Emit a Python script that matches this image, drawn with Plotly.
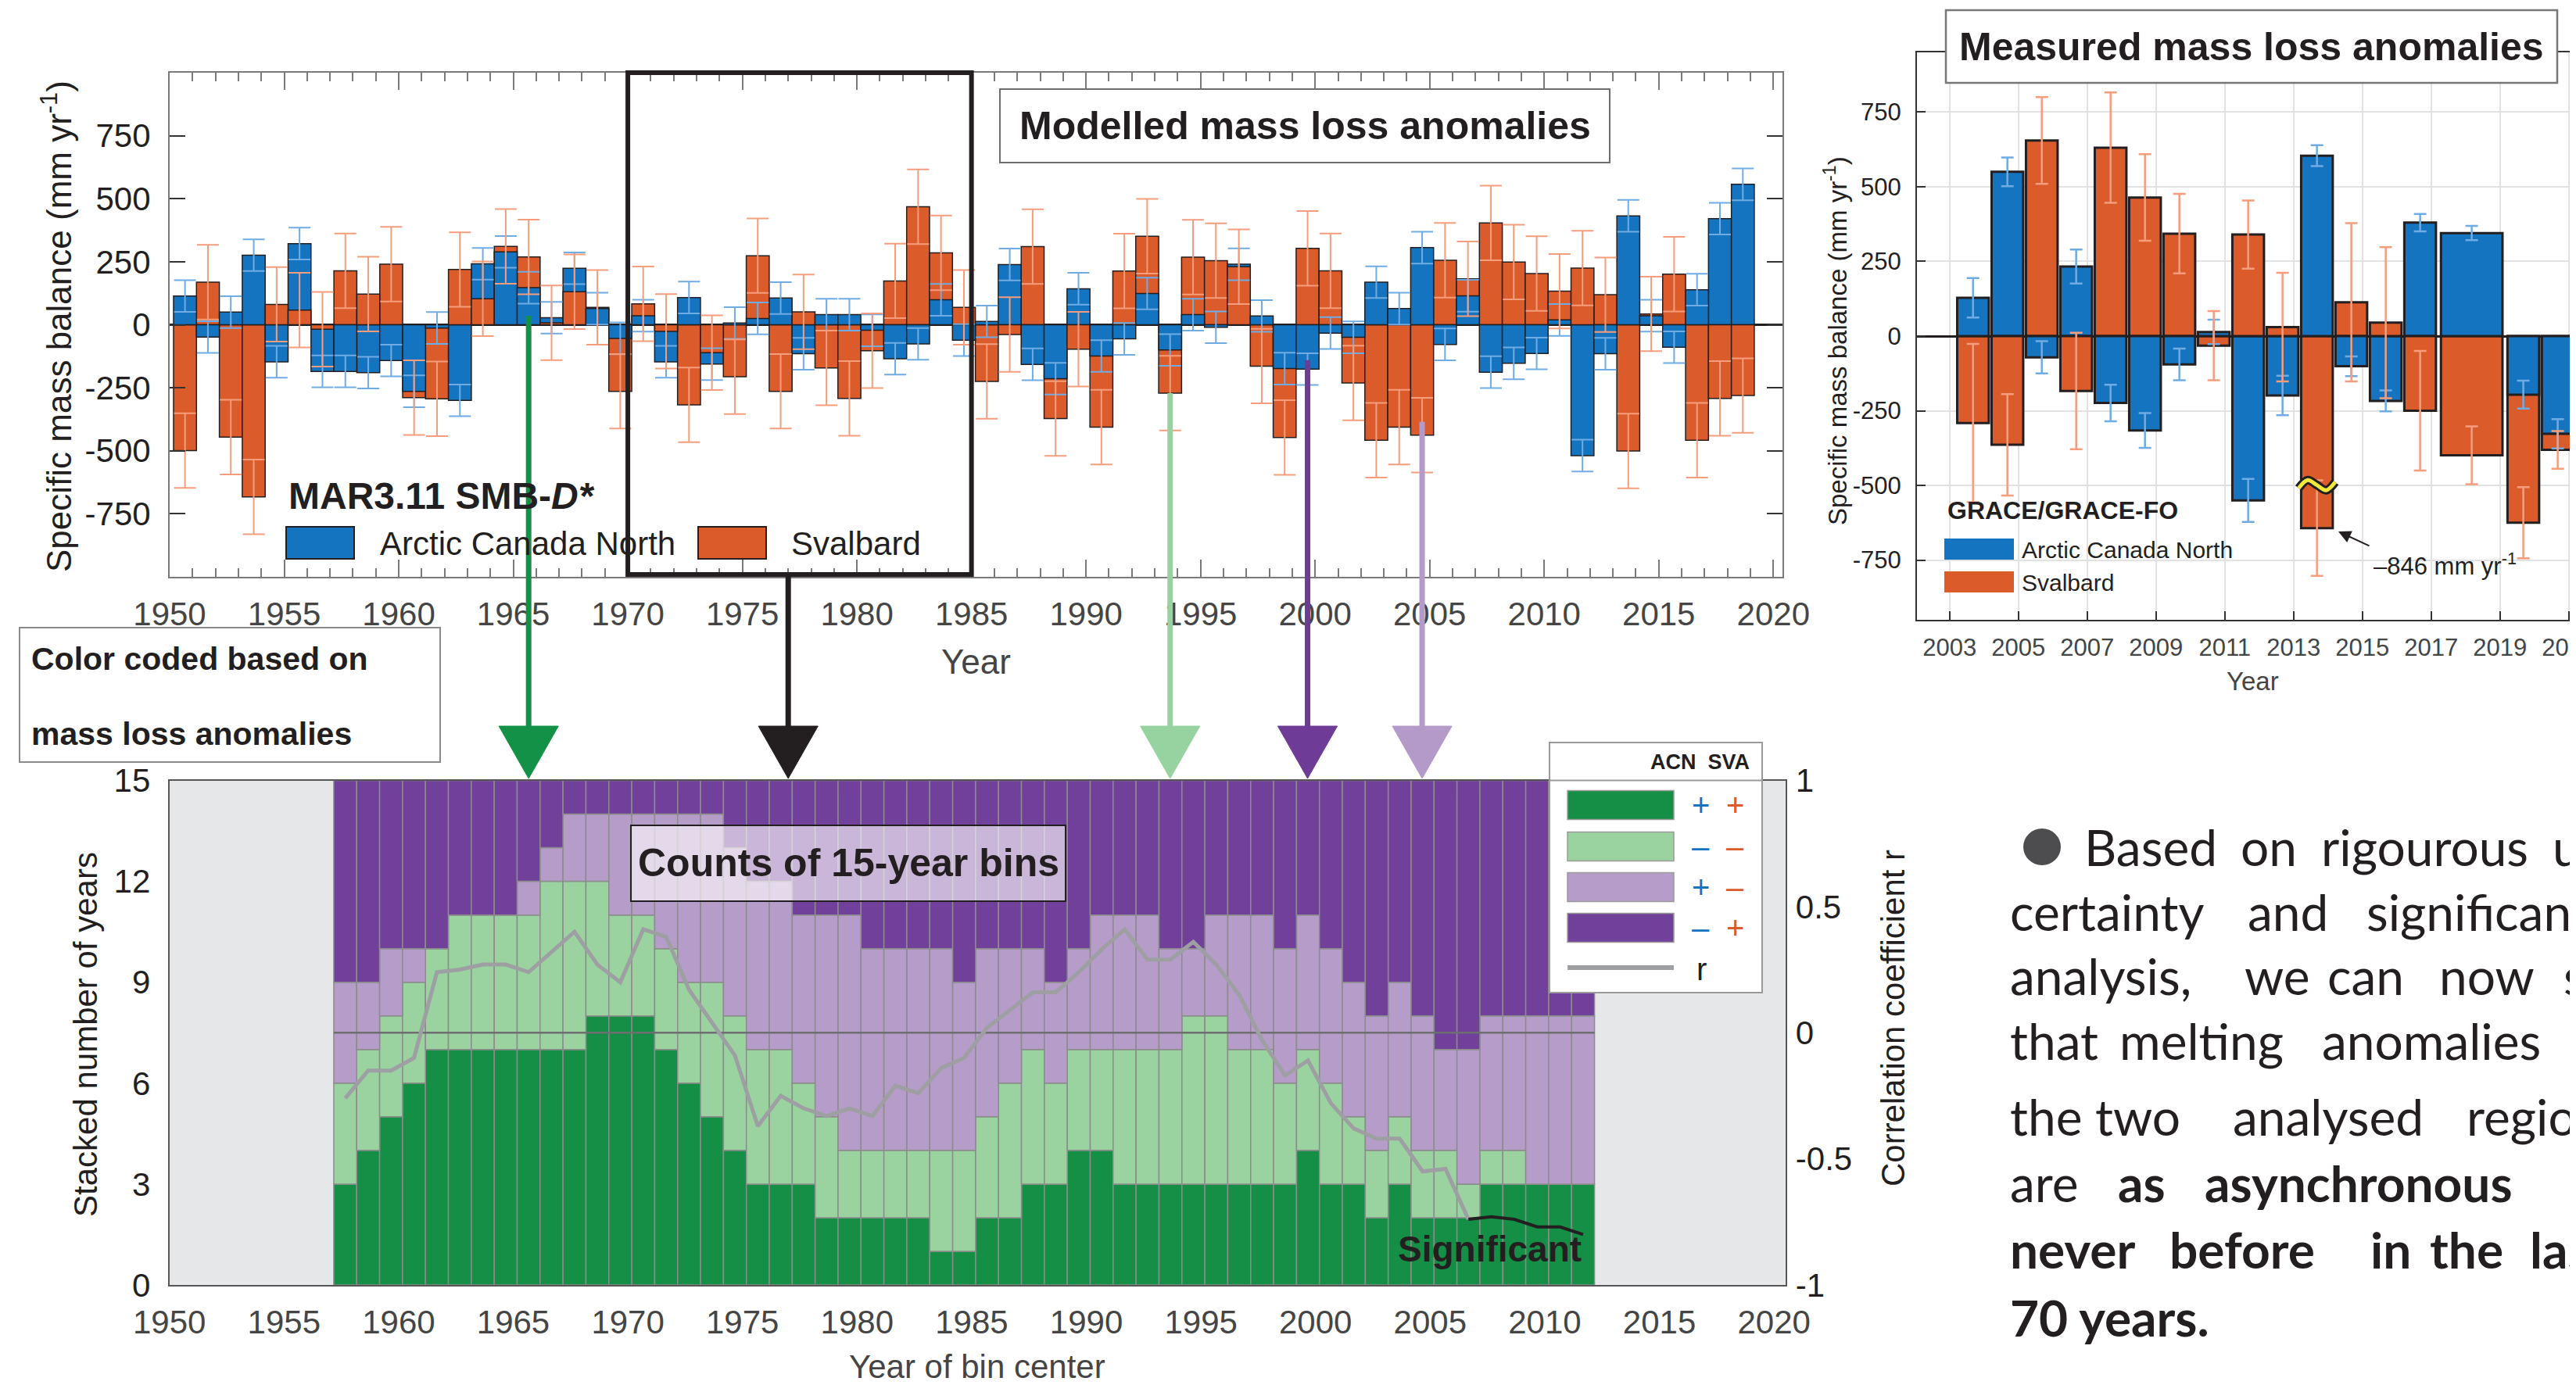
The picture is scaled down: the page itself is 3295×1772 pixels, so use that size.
import numpy as np
import plotly.graph_objects as go

W, H = 3295, 1772          # browser window
PAD = 8                    # default page body margin
WF, HF = W - 2 * PAD, H - 2 * PAD

# ------------------------------------------------------------------ data
# MAR3.11 SMB-D* modelled specific mass balance anomalies (mm yr-1)
mar_years = list(range(1950, 2019))
mar_acn = [114, -49, 50, 276, -147, 322, -185, -185, -190, -142,
           -264, -13, -300, 242, 289, 147, 28, 224, 64, -54,
           36, -147, 108, -156, 7, 25, 106, -115, 40, 40,
           -22, -135, -76, 99, -61, 13, 239, -157, -214, 143,
           -124, -56, 124, -100, 40, -10, 240, 35, -174, -176,
           -33, -50, 169, 64, 306, -78, 115, -188, -153, -114,
           19, -519, -115, 432, 36, -89, 139, 421, 557]
mar_sva = [-499, 169, -446, -683, 81, 58, -18, 214, 122, 240,
           -289, -294, 219, 103, 311, 269, 8, 131, 69, -264,
           83, -26, -318, -111, -206, 274, -264, 51, -171, -292,
           -103, 174, 468, 285, 69, -225, -39, 310, -372, -97,
           -406, 213, 351, -271, 268, 254, 230, -164, -447, 303,
           214, -231, -458, -406, -438, 256, 182, 404, 249, 203,
           133, 225, 119, -501, 43, 201, -458, -292, -281]
mar_acn_err = 63
mar_sva_err = 148

# GRACE / GRACE-FO measured anomalies (mm yr-1)
grace_years = [2003, 2004, 2005, 2006, 2007, 2008, 2009, 2010, 2011, 2012,
               2013, 2014, 2015, 2016, 2017, 2019, 2020]
grace_span = [1, 1, 1, 1, 1, 1, 1, 1, 1, 1, 1, 1, 1, 1, 2, 1, 1]
grace_acn = [128, 550, -71, 233, -224, -316, -95, 14, -550, -199,
             604, -101, -217, 380, 345, -196, -327]
grace_acn_err = [66, 48, 54, 57, 61, 58, 53, 41, 72, 66,
                 35, 33, 35, 29, 24, 47, 49]
grace_sva = [-291, -364, 655, -184, 631, 464, 343, -32, 340, 30,
             -846, 113, 45, -250, -399, -625, -381]
grace_sva_err = [265, 170, 145, 195, 185, 145, 133, 116, 114, 182,
                 160, 265, 253, 200, 97, 119, 63]
grace_break_display = -643      # where the off-scale 2013 bar is cut
grace_break_mark = -499

# Counts in 15-year bins (sign of ACN / SVA anomaly)
cnt_pp = [3, 4, 5, 6, 7, 7, 7, 7, 7, 7, 7, 8, 8, 8, 7, 6, 5, 4, 3, 3,
          3, 2, 2, 2, 2, 2, 1, 1, 2, 2, 3, 3, 4, 4, 3, 3, 3, 3, 3, 3,
          3, 3, 4, 3, 3, 2, 3, 2, 2, 2, 3, 3, 3, 3, 3]
cnt_mm = [3, 3, 3, 3, 3, 4, 4, 4, 4, 5, 5, 4, 3, 3, 3, 3, 4, 4, 4, 4,
          3, 3, 2, 2, 2, 2, 3, 3, 3, 4, 4, 3, 3, 3, 4, 4, 4, 5, 5, 4,
          4, 3, 3, 3, 2, 2, 2, 2, 2, 1, 1, 1, 0, 0, 0]
cnt_pm = [3, 2, 2, 1, 0, 0, 0, 0, 1, 1, 2, 2, 3, 3, 4, 5, 5, 5, 5, 5,
          5, 6, 7, 6, 6, 6, 6, 5, 5, 4, 3, 3, 3, 4, 4, 4, 3, 2, 3, 4,
          4, 4, 4, 4, 4, 4, 4, 4, 3, 4, 4, 4, 5, 5, 5]
cnt_mp = [6, 6, 5, 5, 5, 4, 4, 4, 3, 2, 1, 1, 1, 1, 1, 1, 1, 2, 3, 3,
          4, 4, 4, 5, 5, 5, 5, 6, 5, 5, 5, 6, 5, 4, 4, 4, 5, 5, 4, 4,
          4, 5, 4, 5, 6, 7, 6, 7, 8, 8, 7, 7, 7, 7, 7]
corr_r = [-0.26, -0.15, -0.15, -0.10, 0.24, 0.25, 0.27, 0.27, 0.24, 0.32,
          0.40, 0.27, 0.20, 0.41, 0.38, 0.17, 0.04, -0.09, -0.37, -0.25,
          -0.30, -0.33, -0.30, -0.33, -0.21, -0.24, -0.14, -0.10, 0.02, 0.09,
          0.16, 0.16, 0.24, 0.33, 0.41, 0.29, 0.29, 0.36, 0.27, 0.15,
          -0.03, -0.17, -0.11, -0.28, -0.38, -0.42, -0.42, -0.55, -0.54, -0.74,
          -0.73, -0.74, -0.77, -0.77, -0.80]
bin_len = 15
significant_from_center = 2006

# ------------------------------------------------------------------ styles
BLUE, ORANGE = "#1574bf", "#dc5b2a"
LBLUE, LORANGE = "#70ace4", "#f59d7d"
INK = "#231f20"
GREY_TXT = "#454545"
DGREEN, LGREEN, LPURP, DPURP = "#148f45", "#9ad3a0", "#b59cc9", "#71409a"
SANS = "Liberation Sans, Arial, sans-serif"
NARROW = "Liberation Sans Narrow, Arial Narrow, Liberation Sans, sans-serif"
PARA = "Lato, Open Sans, sans-serif"
MAR_OFF = 0.67

def px(x):
    return (x - PAD) / WF

def py(y):
    return 1 - (y - PAD) / HF

# axis geometry (paper fractions, from window pixels)
X1_DOM, Y1_DOM, X1_RNG, Y1_RNG = [px(217), px(2280)], [py(738), py(93)], [1950, 2020.4], [-1000, 1000]
X2_DOM, Y2_DOM, X2_RNG, Y2_RNG = [px(2452), px(3287)], [py(793), py(67)], [2002.05, 2021.03], [-950, 950]
X3_DOM, Y3_DOM, X3_RNG = [px(216.7), px(2283.8)], [py(1644), py(998.5)], [1950, 2020.5]

def y1_paper(v):
    return Y1_DOM[0] + (v - Y1_RNG[0]) / (Y1_RNG[1] - Y1_RNG[0]) * (Y1_DOM[1] - Y1_DOM[0])

def ann(text, x, y, size, family=SANS, color=INK, xanchor="center", yanchor="middle", angle=0):
    return dict(text=text, x=px(x), y=py(y), xref="paper", yref="paper", showarrow=False,
                font=dict(size=size, family=family, color=color), xanchor=xanchor,
                yanchor=yanchor, textangle=angle)

def rect(x0, y0, x1, y1, fill, lc, lw, layer="above"):
    return dict(type="rect", xref="paper", yref="paper", x0=px(x0), x1=px(x1),
                y0=py(y1), y1=py(y0), fillcolor=fill, line=dict(color=lc, width=lw), layer=layer)

fig = go.Figure()

# ------------------------------------------------------------------ top-left: modelled
mar_x = np.array(mar_years) + MAR_OFF
acn = np.array(mar_acn)
sva = np.array(mar_sva)
acn_big = np.abs(acn) >= np.abs(sva)
back_v = np.where(acn_big, acn, sva)
back_c = np.where(acn_big, BLUE, ORANGE)
front_v = np.where(acn_big, sva, acn)
front_c = np.where(acn_big, ORANGE, BLUE)
for vals, cols in [(back_v, back_c), (front_v, front_c)]:
    fig.add_trace(go.Bar(x=mar_x, y=vals, width=1.0, marker=dict(color=list(cols), line=dict(color=INK, width=1.5)),
                         xaxis="x", yaxis="y", showlegend=False, hoverinfo="skip"))
for vals, err, col in [(mar_acn, mar_acn_err, LBLUE), (mar_sva, mar_sva_err, LORANGE)]:
    fig.add_trace(go.Scatter(x=mar_x, y=vals, mode="markers", marker=dict(size=1, color="rgba(0,0,0,0)"),
                             error_y=dict(type="constant", value=err, color=col, thickness=2, width=14),
                             xaxis="x", yaxis="y", showlegend=False, hoverinfo="skip"))

# ------------------------------------------------------------------ top-right: GRACE
g_years = np.array(grace_years, dtype=float)
g_span = np.array(grace_span, dtype=float)
g_x = g_years + g_span / 2 + 0.18
g_w = 0.92 * g_span - 0.05 * (g_span - 1)
g_acn = np.array(grace_acn, dtype=float)
g_sva = np.array(grace_sva, dtype=float)
g_sva_disp = np.where(g_sva < grace_break_display - 50, grace_break_display, g_sva)
g_big = np.abs(g_acn) >= np.abs(g_sva_disp)
for vals, cols in [(np.where(g_big, g_acn, g_sva_disp), np.where(g_big, BLUE, ORANGE)),
                   (np.where(g_big, g_sva_disp, g_acn), np.where(g_big, ORANGE, BLUE))]:
    fig.add_trace(go.Bar(x=g_x, y=vals, width=list(g_w), marker=dict(color=list(cols), line=dict(color=INK, width=3)),
                         xaxis="x2", yaxis="y2", showlegend=False, hoverinfo="skip"))
for vals, err, col in [(g_acn, grace_acn_err, LBLUE), (g_sva_disp, grace_sva_err, LORANGE)]:
    fig.add_trace(go.Scatter(x=g_x, y=vals, mode="markers", marker=dict(size=1, color="rgba(0,0,0,0)"),
                             error_y=dict(type="data", array=err, color=col, thickness=2.5, width=8),
                             xaxis="x2", yaxis="y2", showlegend=False, hoverinfo="skip"))
# axis-break squiggle on the off-scale bar
ib = int(np.argmin(g_sva))
sq_x = g_x[ib] + np.array([-0.53, -0.27, 0.0, 0.27, 0.53])
sq_y = grace_break_mark + np.array([-10, 17, 0, -17, 10])
for col, lw in [(INK, 11), ("#f2e93a", 5)]:
    fig.add_trace(go.Scatter(x=sq_x, y=sq_y, mode="lines", line=dict(color=col, width=lw, shape="spline"),
                             xaxis="x2", yaxis="y2", showlegend=False, hoverinfo="skip"))

# ------------------------------------------------------------------ bottom: bin counts
bin_c = np.array([np.mean(mar_years[i:i + bin_len]) for i in range(len(cnt_pp))]) + MAR_OFF
base = np.zeros(len(cnt_pp))
for cnt, col in [(cnt_pp, DGREEN), (cnt_mm, LGREEN), (cnt_pm, LPURP), (cnt_mp, DPURP)]:
    fig.add_trace(go.Bar(x=bin_c, y=cnt, base=base.copy(), width=1.0,
                         marker=dict(color=col, line=dict(color="#8c8c8c", width=1.5)),
                         xaxis="x3", yaxis="y3", showlegend=False, hoverinfo="skip"))
    base = base + np.array(cnt)
fig.add_trace(go.Scatter(x=[bin_c[0] - 0.5, bin_c[-1] + 0.5], y=[0, 0], mode="lines",
                         line=dict(color="#6d6e70", width=2.5), xaxis="x3", yaxis="y4",
                         showlegend=False, hoverinfo="skip"))
r = np.array(corr_r)
centers_int = np.array([np.mean(mar_years[i:i + bin_len]) for i in range(len(cnt_pp))])
sig = centers_int >= significant_from_center
k0 = int(np.argmax(sig))
fig.add_trace(go.Scatter(x=bin_c[:k0 + 1], y=r[:k0 + 1], mode="lines", line=dict(color="#9d9fa2", width=5),
                         xaxis="x3", yaxis="y4", showlegend=False, hoverinfo="skip"))
fig.add_trace(go.Scatter(x=bin_c[k0:], y=r[k0:], mode="lines", line=dict(color=INK, width=4),
                         xaxis="x3", yaxis="y4", showlegend=False, hoverinfo="skip"))

# ------------------------------------------------------------------ axes
tick_font = dict(family=SANS, size=42, color=INK)
xtick_font = dict(family=SANS, size=42, color=GREY_TXT)
fig.update_layout(
    width=WF, height=HF, margin=dict(l=0, r=0, t=0, b=0, autoexpand=False),
    paper_bgcolor="white", plot_bgcolor="rgba(0,0,0,0)",
    barmode="overlay", showlegend=False, font=dict(family=SANS, color=INK),
    xaxis=dict(domain=X1_DOM, range=X1_RNG, anchor="y", tickmode="linear", tick0=1950, dtick=5,
               ticks="inside", ticklen=22, tickwidth=2, tickcolor="#7a7a7a", showline=True,
               linecolor="#7a7a7a", linewidth=2, mirror="ticks", showgrid=False, zeroline=False,
               tickfont=xtick_font, ticklabelstandoff=10, automargin=False, ticklabeloverflow="allow",
               minor=dict(ticks="inside", dtick=1, ticklen=11, tickwidth=1.5, tickcolor="#7a7a7a")),
    yaxis=dict(domain=Y1_DOM, range=Y1_RNG, anchor="x", tickvals=[-750, -500, -250, 0, 250, 500, 750],
               ticktext=["-750", "-500", "-250", "0", "250", "500", "750"], ticks="inside", ticklen=20,
               tickwidth=2, tickcolor="#333", showline=True, linecolor="#7a7a7a", linewidth=2,
               mirror="ticks", showgrid=False, zeroline=True, zerolinecolor=INK, zerolinewidth=2.5,
               tickfont=tick_font, ticklabelstandoff=14, automargin=False),
    xaxis2=dict(domain=X2_DOM, range=X2_RNG, anchor="y2", tickmode="linear", tick0=2003, dtick=2,
                ticks="inside", ticklen=11, tickwidth=1.5, tickcolor="#333", showline=True,
                linecolor="#333", linewidth=2, mirror=True, showgrid=True, gridcolor="#e2e2e2",
                gridwidth=1.5, zeroline=False, tickfont=dict(family=SANS, size=31, color=GREY_TXT),
                ticklabelstandoff=7, automargin=False, ticklabeloverflow="allow"),
    yaxis2=dict(domain=Y2_DOM, range=Y2_RNG, anchor="x2", tickvals=[-750, -500, -250, 0, 250, 500, 750],
                ticktext=["-750", "-500", "-250", "0", "250", "500", "750"], ticks="inside", ticklen=11,
                tickwidth=1.5, tickcolor="#333", showline=True, linecolor="#333", linewidth=2, mirror=True,
                showgrid=True, gridcolor="#e2e2e2", gridwidth=1.5, zeroline=True, zerolinecolor=INK,
                zerolinewidth=2.5, tickfont=dict(family=SANS, size=31, color=INK), ticklabelstandoff=12,
                automargin=False),
    xaxis3=dict(domain=X3_DOM, range=X3_RNG, anchor="y3", tickmode="linear", tick0=1950, dtick=5,
                ticks="", showline=True, linecolor="#555", linewidth=2, mirror=True, showgrid=False,
                zeroline=False, tickfont=xtick_font, ticklabelstandoff=10, automargin=False,
                ticklabeloverflow="allow"),
    yaxis3=dict(domain=Y3_DOM, range=[0, 15], anchor="x3", tickvals=[0, 3, 6, 9, 12, 15], ticks="",
                showline=True, linecolor="#555", linewidth=2, mirror=True, showgrid=False, zeroline=False,
                tickfont=tick_font, ticklabelstandoff=14, automargin=False),
    yaxis4=dict(domain=Y3_DOM, range=[-1, 1], anchor="x3", overlaying="y3", side="right",
                tickvals=[-1, -0.5, 0, 0.5, 1], ticktext=["-1", "-0.5", "0", "0.5", "1"], ticks="",
                showline=False, showgrid=False, zeroline=False, tickfont=tick_font, ticklabelstandoff=12,
                automargin=False),
)

shapes = []
annots = []

# bottom plot grey background
shapes.append(dict(type="rect", xref="x3 domain", yref="y3 domain", x0=0, x1=1, y0=0, y1=1,
                   fillcolor="#e6e7e8", line=dict(width=0), layer="below"))

# ---- top-left decorations
shapes.append(dict(type="rect", xref="x", yref="paper", x0=1970, x1=1985, y0=py(735), y1=py(93),
                   line=dict(color=INK, width=6), fillcolor="rgba(0,0,0,0)", layer="above"))
shapes.append(rect(1279, 114, 2059, 208, "white", "#6d6d6d", 2))
annots.append(ann("<b>Modelled mass loss anomalies</b>", 1669, 161, 50, NARROW))
annots.append(ann("<b>MAR3.11 SMB-<i>D*</i></b>", 367, 634, 48, NARROW, xanchor="left"))
shapes.append(rect(366, 674, 453, 715, BLUE, INK, 2))
shapes.append(rect(893, 674, 980, 715, ORANGE, INK, 2))
annots.append(ann("Arctic Canada North", 484, 695, 42, NARROW, xanchor="left"))
annots.append(ann("Svalbard", 1010, 695, 42, NARROW, xanchor="left"))
annots.append(ann("Specific mass balance (mm yr<sup>-1</sup>)", 73, 418, 44, SANS, angle=-90))
annots.append(ann("Year", 1248, 846, 44, SANS, GREY_TXT))

# ---- arrows from the modelled chart to the bin chart
tri_top, tri_tip, tri_half = py(929), py(996), 1.3
highlight_bars = [1965, 1993, 1999, 2004]
highlight_start = [36, -271, -140, -385]
highlight_cols = ["#139247", "#97d3a0", "#6e3c97", "#b49ac9"]
arrows = [(b + MAR_OFF, y1_paper(s), c) for b, s, c in zip(highlight_bars, highlight_start, highlight_cols)]
arrows.append((1977, py(735), INK))
for xa, ys, col in arrows:
    shapes.append(dict(type="line", xref="x", yref="paper", x0=xa, x1=xa, y0=ys, y1=tri_top,
                       line=dict(color=col, width=7), layer="above"))
    shapes.append(dict(type="path", xref="x", yref="paper",
                       path=f"M {xa - tri_half},{tri_top} L {xa + tri_half},{tri_top} L {xa},{tri_tip} Z",
                       fillcolor=col, line=dict(color=col, width=1), layer="above"))

# ---- "Color coded" box
shapes.append(rect(25, 803, 563, 975, "white", "#8a8a8a", 2))
annots.append(ann("<b>Color coded based on</b>", 38, 843, 41, SANS, xanchor="left"))
annots.append(ann("<b>mass loss anomalies</b>", 38, 939, 41, SANS, xanchor="left"))

# ---- top-right decorations
shapes.append(rect(2489, 13, 3271, 106, "white", "#777", 2.5))
annots.append(ann("<b>Measured mass loss anomalies</b>", 2880, 60, 50, NARROW))
annots.append(ann("Specific mass balance (mm yr<sup>-1</sup>)", 2348, 436, 33, SANS, angle=-90))
annots.append(ann("Year", 2881, 872, 33, SANS, GREY_TXT))
annots.append(ann("<b>GRACE/GRACE-FO</b>", 2489, 653, 32, SANS, xanchor="left"))
shapes.append(rect(2487, 689, 2576, 716, BLUE, BLUE, 0))
shapes.append(rect(2487, 731, 2576, 758, ORANGE, ORANGE, 0))
annots.append(ann("Arctic Canada North", 2584, 703, 30, SANS, xanchor="left"))
annots.append(ann("Svalbard", 2584, 745, 30, SANS, xanchor="left"))
annots.append(ann("\u2013846 mm yr<sup>-1</sup>", 3034, 722, 31, SANS, xanchor="left"))
annots.append(dict(text="", x=px(2991), y=py(680), xref="paper", yref="paper", showarrow=True,
                   ax=41, ay=19, arrowhead=2, arrowsize=1.6, arrowwidth=2, arrowcolor=INK, standoff=0))

# ---- bottom decorations
annots.append(ann("Stacked number of years", 109, 1324, 42, SANS, angle=-90))
annots.append(ann("Correlation coefficient r", 2421, 1303, 42, SANS, angle=-90))
annots.append(ann("Year of bin center", 1250, 1748, 42, SANS, GREY_TXT))
annots.append(ann("<b>Significant</b>", 1905, 1598, 46, NARROW))
shapes.append(rect(807, 1056, 1363, 1153, "rgba(255,255,255,0.62)", INK, 2))
annots.append(ann("<b>Counts of 15-year bins</b>", 1085, 1104, 50, NARROW))
# legend box
shapes.append(rect(1982, 950, 2254, 1270, "white", "#9a9a9a", 2))
shapes.append(dict(type="line", xref="paper", yref="paper", x0=px(1982), x1=px(2254), y0=py(998.5),
                   y1=py(998.5), line=dict(color="#9a9a9a", width=2), layer="above"))
annots.append(ann("<b>ACN  SVA</b>", 2174, 975, 27, NARROW))
rows = [(1030, DGREEN, "+", "+"), (1083, LGREEN, "\u2013", "\u2013"),
        (1135, LPURP, "+", "\u2013"), (1187, DPURP, "\u2013", "+")]
for yc, col, s1, s2 in rows:
    shapes.append(rect(2005, yc - 18.5, 2141, yc + 18.5, col, "#9a9a9a", 1.5))
    annots.append(ann(s1, 2175, yc, 40, SANS, BLUE))
    annots.append(ann(s2, 2219, yc, 40, SANS, ORANGE))
shapes.append(dict(type="line", xref="paper", yref="paper", x0=px(2005), x1=px(2141), y0=py(1238),
                   y1=py(1238), line=dict(color="#9d9fa2", width=6), layer="above"))
annots.append(ann("r", 2168, 1240, 40, SANS, xanchor="left"))

# ---- right-hand paragraph
shapes.append(dict(type="circle", xref="paper", yref="paper", x0=px(2588), x1=px(2636), y0=py(1107),
                   y1=py(1060), fillcolor="#4d4d4f", line=dict(width=0)))
para = [
    (1083, [("Based", 2664, 0), ("on", 2864, 0), ("rigourous", 2967, 0), ("un-", 3263, 0)]),
    (1166, [("certainty", 2569, 0), ("and", 2873, 0), ("significance", 3025, 0)]),
    (1248, [("analysis,", 2569, 0), ("we", 2869, 0), ("can", 2975, 0), ("now", 3118, 0), ("show", 3277, 0)]),
    (1331, [("that", 2569, 0), ("melting", 2709, 0), ("anomalies", 2968, 0)]),
    (1428, [("the", 2569, 0), ("two", 2678, 0), ("analysed", 2854, 0), ("regions", 3153, 0)]),
    (1513, [("are", 2569, 0), ("as", 2707, 1), ("asynchronous", 2818, 1)]),
    (1598, [("never", 2569, 1), ("before", 2773, 1), ("in", 3030, 1), ("the", 3106, 1), ("last", 3234, 1)]),
    (1685, [("70 years.", 2569, 1)]),
]
for yc, words in para:
    for wtxt, xw, bold in words:
        t = f"<b>{wtxt}</b>" if bold else wtxt
        annots.append(ann(t, xw, yc, 64, PARA, INK, xanchor="left"))

fig.update_layout(shapes=shapes, annotations=annots)
fig.write_html("out.html")
